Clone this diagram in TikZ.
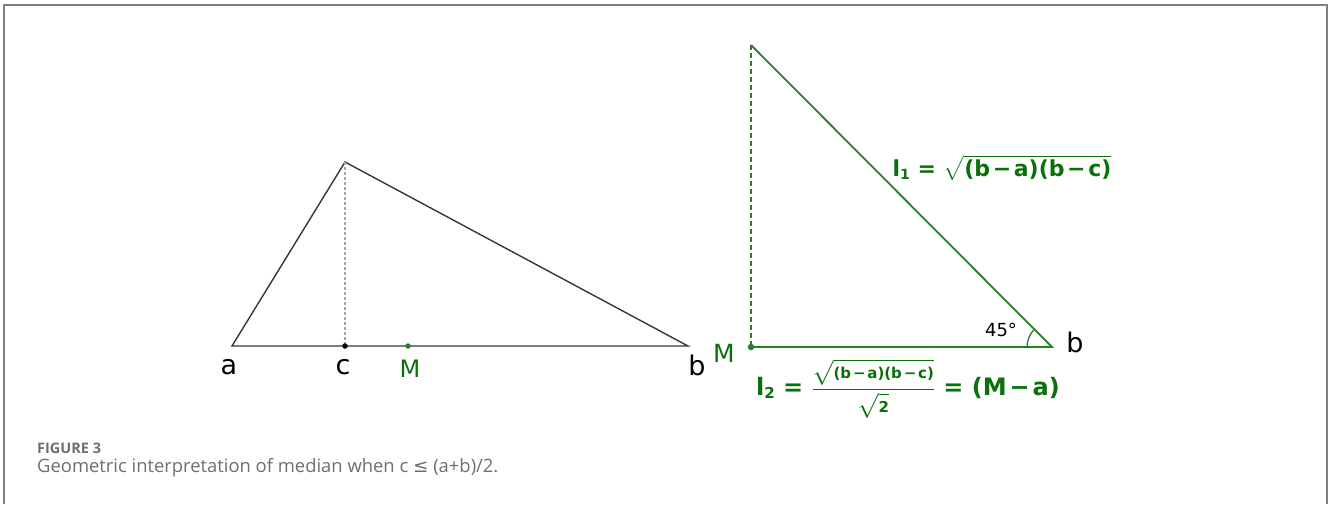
\documentclass[tikz,border=0pt]{standalone}
\usepackage{fontspec}
\usepackage{amsmath}
\setmainfont{DejaVu Sans}
\newfontfamily\capfont{Open Sans}
\usetikzlibrary{calc}
\definecolor{geo}{RGB}{40,128,40}
\definecolor{geotext}{RGB}{10,112,10}
\definecolor{framegray}{RGB}{128,128,128}
\definecolor{tricol}{RGB}{55,55,55}
\definecolor{capgray}{RGB}{110,110,110}
\newcommand{\gbf}[2]{\hbox{\fontsize{#1}{#1}\selectfont\bfseries #2}}
\newcommand{\mn}{\kern0.12em−\kern0.12em}
\begin{document}
\begin{tikzpicture}[x=1pt,y=-1pt,
  tri/.style={draw=tricol, line width=1.4pt},
  geoline/.style={draw=geo, line width=1.8pt},
  lab/.style={font=\fontsize{27}{27}\selectfont, anchor=base, inner sep=0pt},
  glab/.style={lab, text=geotext},
  dot/.style={circle, fill=#1, inner sep=0pt, minimum size=5.5pt},
  formula/.style={text=geotext, inner sep=0pt}]
\useasboundingbox (0,0) rectangle (1328,504);
\draw[framegray, line width=2pt] (4,504) -- (4,5) -- (1327,5) -- (1327,504);
% left triangle
\coordinate (A) at (232,346);
\coordinate (P) at (345,162);
\coordinate (B) at (688,346);
\coordinate (C) at (345,346);
\coordinate (M) at (408,346);
\draw[tri] (A) -- (P) -- (B) -- cycle;
\draw[gray!70, line width=1.1pt, dash pattern=on 3pt off 2pt] (P) -- (C);
\node[dot=black] (cdot) at (C) {};
\node[dot=geo] (mdot) at (M) {};
\node[lab] (la) at (229,374) {a};
\node[lab] (lc) at (343,374) {c};
\node[glab, font=\fontsize{24}{24}\selectfont] (lm) at (410,377) {M};
\node[lab] (lb) at (697,375) {b};
% right triangle
\coordinate (T) at (751,45);
\coordinate (MR) at (751,347);
\coordinate (BR) at (1052,347);
\draw[geoline] (T) -- (BR) -- (MR);
\draw[geo, line width=1.8pt, dash pattern=on 5pt off 3pt] (T) -- (MR);
\node[dot=geo, minimum size=6.5pt] (mrdot) at (MR) {};
\draw[geo, line width=1.3pt] (BR) ++(180:25) arc[start angle=180, end angle=225, radius=25];
\node[font=\fontsize{18}{18}\selectfont, inner sep=0pt] (ang) at (1001,330) {45°};
\node[lab] (lbr) at (1075,352) {b};
\node[glab, font=\fontsize{25}{25}\selectfont] (lmr) at (724,362) {M};
\node[formula, font=\fontsize{22}{22}\selectfont\bfseries] (l1) at (1002,168) {l\raisebox{-0.25ex}{\fontsize{14}{14}\selectfont 1} = $\sqrt{\gbf{22}{(b\mn a)(b\mn c)}}$};
\node[formula, font=\fontsize{24}{24}\selectfont\bfseries] (l2) at (908,389) {l\raisebox{-0.25ex}{\fontsize{15}{15}\selectfont 2} = $\dfrac{\sqrt{\gbf{15}{(b\mn a)(b\mn c)}}}{\sqrt{\gbf{15}{2}}}$ = (M\mn a)};
% caption
\node[anchor=base west, inner sep=0pt, text=capgray, font=\capfont\fontsize{14.5}{14.5}\selectfont\bfseries] (fig) at (37,453) {FIGURE 3};
\node[anchor=base west, inner sep=0pt, text=capgray, font=\capfont\fontsize{18.4}{18.4}\selectfont] (cap) at (37,472) {Geometric interpretation of median when c {\fontspec{DejaVu Sans}≤} (a+b)/2.};
\end{tikzpicture}
\end{document}
